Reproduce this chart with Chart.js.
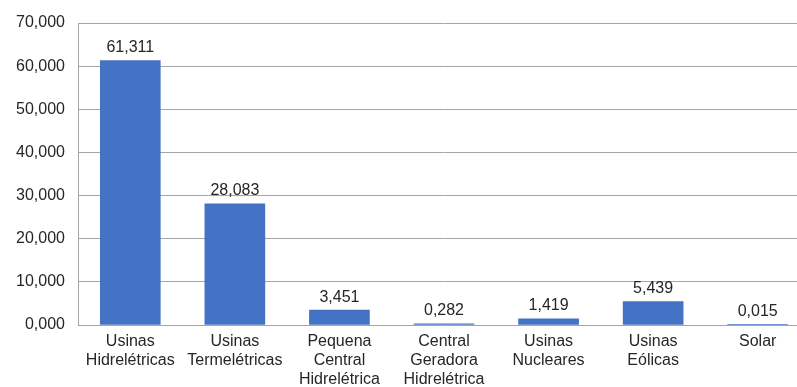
<!DOCTYPE html>
<html>
<head>
<meta charset="utf-8">
<script src="https://cdn.jsdelivr.net/npm/chart.js@4"></script>
<style>
  html, body { margin: 0; padding: 0; background: #fff; overflow: hidden; }
  #wrap { width: 810px; height: 387px; }
</style>
</head>
<body>
<div id="wrap"><canvas id="chart"></canvas></div>
<script>
// categories (multi-line labels)
const categories = [
  ["Usinas", "Hidrelétricas"],
  ["Usinas", "Termelétricas"],
  ["Pequena", "Central", "Hidrelétrica"],
  ["Central", "Geradora", "Hidrelétrica"],
  ["Usinas", "Nucleares"],
  ["Usinas", "Eólicas"],
  ["Solar"],
];

// series values
const shares = [61.311, 28.083, 3.451, 0.282, 1.419, 5.439, 0.015];

// y axis ticks
const yTicks = [0, 10, 20, 30, 40, 50, 60, 70];

// format with comma as decimal separator
function fmt(v) {
  return Number(v).toFixed(3).replace(".", ",");
}

// draw value labels above bars
const valueLabels = {
  id: "valueLabels",
  afterDatasetsDraw(chart) {
    const ctx = chart.ctx;
    const meta = chart.getDatasetMeta(0);
    ctx.save();
    ctx.font = "16px 'Liberation Sans', Arial, sans-serif";
    ctx.fillStyle = "#262626";
    ctx.textAlign = "center";
    ctx.textBaseline = "alphabetic";
    meta.data.forEach((bar, i) => {
      ctx.fillText(fmt(shares[i]), bar.x, bar.y - 8.5);
    });
    ctx.restore();
  },
};

const chart = document.querySelector("#chart").getContext("2d");

new Chart(chart, {
  type: "bar",
  data: {
    labels: categories,
    datasets: [
      {
        data: shares,
        backgroundColor: "#4472C4",
        barThickness: 60,
      },
    ],
  },
  options: {
    responsive: true,
    maintainAspectRatio: false,
    animation: false,
    layout: { padding: { top: 23, right: 0, bottom: 0, left: 0 } },
    plugins: {
      legend: { display: false },
      tooltip: { enabled: false },
    },
    scales: {
      x: {
        grid: { display: false, drawTicks: false },
        border: { display: true, color: "#a6a6a6", width: 1 },
        ticks: {
          autoSkip: false,
          maxRotation: 0,
          minRotation: 0,
          padding: 7,
          color: "#262626",
          font: { family: "'Liberation Sans', Arial, sans-serif", size: 16, lineHeight: 1.2 },
        },
        afterFit(scale) {
          scale.height = 62;
        },
      },
      y: {
        min: 0,
        max: 70,
        afterBuildTicks(scale) {
          scale.ticks = yTicks.map((v) => ({ value: v }));
        },
        grid: { color: "#a6a6a6", drawTicks: false },
        border: { display: true, color: "#a6a6a6", width: 1 },
        ticks: {
          padding: 13,
          color: "#262626",
          font: { family: "'Liberation Sans', Arial, sans-serif", size: 16 },
          callback: (v) => fmt(v),
        },
        afterFit(scale) {
          scale.width = 78;
        },
      },
    },
  },
  plugins: [valueLabels],
});
</script>
</body>
</html>
